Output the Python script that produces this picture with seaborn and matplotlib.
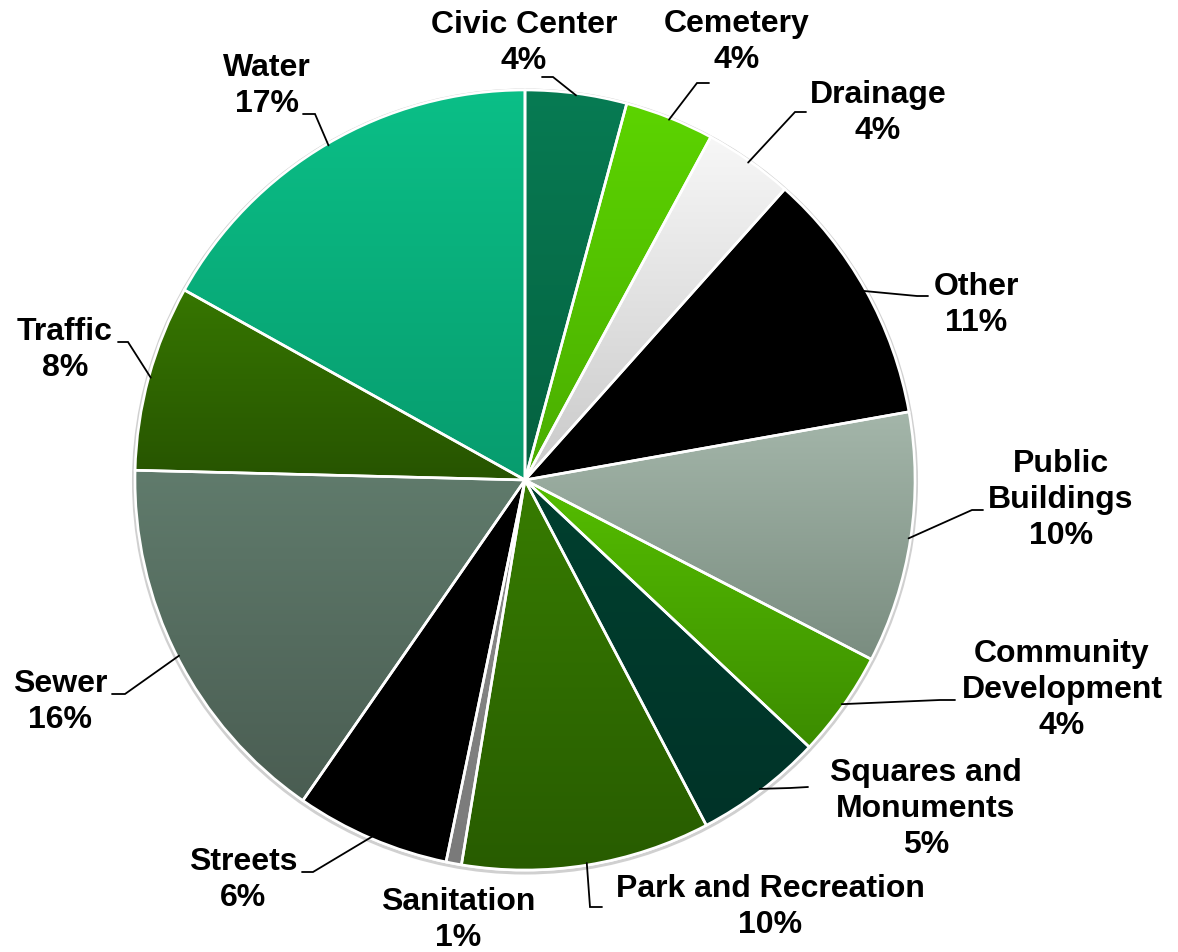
import numpy as np
import matplotlib
matplotlib.use('Agg')
import matplotlib.pyplot as plt
import seaborn as sns


# Budget share by category (percent), clockwise from 12 o'clock
CATEGORIES = ['Civic Center', 'Cemetery', 'Drainage', 'Other', 'Public\nBuildings',
              'Community\nDevelopment', 'Squares and\nMonuments', 'Park and Recreation',
              'Sanitation', 'Streets', 'Sewer', 'Traffic', 'Water']
SHARES = [4.2, 3.7, 3.7, 10.6, 10.4, 4.4, 5.3, 10.3, 0.64, 6.4, 15.75, 7.7, 16.9]

# gradient (top colour, bottom colour) per slice
GRADIENTS = [('#077b53', '#056140'), ('#5cd400', '#4aad00'), ('#f7f7f7', '#c9c9c9'),
             ('#000000', '#000000'), ('#a4b6aa', '#7a8d80'), ('#55be00', '#3c8c00'),
             ('#00402f', '#003328'), ('#377c00', '#285c00'), ('#8c8c8c', '#7a7a7a'),
             ('#000000', '#000000'), ('#607b6c', '#4a5d52'), ('#367600', '#275400'),
             ('#0bbf87', '#079c6e')]

W, H = 1178, 952
CENTER = (525, 480)
RADIUS = 390

# label block centre, leader elbow and leader end (pixel coords, y from top)
LABEL_POS = [(524, 43), (737, 42), (878, 113), (976, 305), (1061, 500), (1062, 690),
             (926, 809), (770, 907), (458, 920), (243, 880), (60, 702), (65, 350), (267, 86)]
LEADERS = [((553, 77), (542, 77)), ((697, 83), (709, 83)), ((795, 112), (806, 112)),
           ((917, 296), (928, 296)), ((972, 510), (983, 510)), ((940, 700), (955, 700)),
           ((790, 788), (808, 787)), ((590, 907), (602, 907)), None,
           ((313, 872), (302, 872)), ((125, 694), (112, 694)), ((128, 342), (118, 342)),
           ((315, 114), (303, 114))]


def fy(y):
    return H - y


sns.set_theme(style='white')
plt.rcParams['font.family'] = ['Liberation Sans', 'DejaVu Sans']

fig = plt.figure(figsize=(W / 100, H / 100), dpi=100)
ax = fig.add_axes([0, 0, 1, 1])

wedges, _ = ax.pie(SHARES, startangle=90, counterclock=False,
                   center=(CENTER[0], fy(CENTER[1])), radius=RADIUS,
                   colors=[g[0] for g in GRADIENTS],
                   wedgeprops=dict(edgecolor='white', linewidth=1.9))

# soft outer shadow ring
ax.add_patch(plt.Circle((CENTER[0], fy(CENTER[1]) - 1.5), RADIUS + 1.5, facecolor='none',
                        edgecolor='#bdbdbd', linewidth=2.2, alpha=0.7, zorder=1))

for wedge, (top, bottom) in zip(wedges, GRADIENTS):
    ext = wedge.get_path().get_extents()
    grad = np.array(sns.blend_palette([top, bottom], n_colors=256))[:, None, :]
    im = ax.imshow(grad, extent=[ext.x0, ext.x1, ext.y0, ext.y1], origin='upper',
                   aspect='auto', zorder=2, interpolation='bilinear')
    im.set_clip_path(wedge)
    wedge.set_facecolor('none')
    wedge.set_zorder(3)

total = sum(SHARES)
for i, (wedge, name, val) in enumerate(zip(wedges, CATEGORIES, SHARES)):
    pct = val / total * 100
    lx, ly = LABEL_POS[i]
    ax.text(lx, fy(ly), f'{name}\n{pct:.0f}%', ha='center', va='center',
            multialignment='center', fontsize=23, fontweight='bold',
            color='black', linespacing=1.28, zorder=5)
    if LEADERS[i] is None:
        continue
    mid = np.deg2rad((wedge.theta1 + wedge.theta2) / 2)
    sx = CENTER[0] + (RADIUS - 2) * np.cos(mid)
    sy = fy(CENTER[1]) + (RADIUS - 2) * np.sin(mid)
    (ex, ey), (tx, ty) = LEADERS[i]
    ax.plot([sx, ex, tx], [sy, fy(ey), fy(ty)], color='black', linewidth=1.3,
            zorder=4, solid_joinstyle='miter')

ax.set_xlim(0, W)
ax.set_ylim(0, H)
ax.set_aspect('equal')
ax.axis('off')

plt.savefig('out.png', dpi=100, facecolor='white')
plt.close()
